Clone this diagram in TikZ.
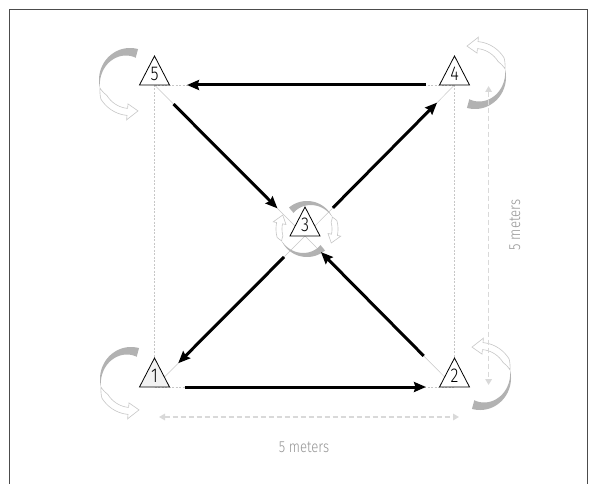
\documentclass[tikz,border=0pt]{standalone}
\usepackage{fontspec}
\setmainfont{Fira Sans}[FakeStretch=0.82, UprightFont=* Light]
\usetikzlibrary{arrows.meta,calc}
\tikzset{
  guide/.style={draw=black!22, line width=0.5pt},
  guidedash/.style={guide, dash pattern=on 2pt off 1.5pt},
  tri/.style={draw=black, line width=0.8pt, line join=miter},
  digit/.style={font=\fontsize{20}{20}\selectfont, text=black, inner sep=0pt},
  move/.style={draw=black, line width=3pt, -{Stealth[length=12pt,width=10pt,inset=1.5pt]}},
  dim/.style={draw=black!15, line width=1.6pt, dash pattern=on 5pt off 3pt,
    {Triangle[length=6pt,width=6.5pt]}-{Triangle[length=6pt,width=6.5pt]}},
  dimlabel/.style={font=\fontsize{16}{16}\selectfont, text=black!42, inner sep=0pt},
  band/.style={fill=black!30},
  outl/.style={draw=black!22, line width=0.6pt, fill=white},
  frame/.style={draw=black!70, line width=0.9pt},
}
% tapered band: rx ry a0 a1 T
\newcommand\rotband[5]{%
  \fill[band] plot[domain=0:1,samples=40,variable=\q]
    ({(#1)*cos(#3+(#4-#3)*\q)},{(#2)*sin(#3+(#4-#3)*\q)})
    -- plot[domain=0:1,samples=40,variable=\q]
    ({(#1-#5*\q)*cos(#4+(#3-#4)*\q)},{(#2-#5*\q)*sin(#4+(#3-#4)*\q)}) -- cycle;}
% outlined arrow: rx ry a1 a2 tip w h
\newcommand\rotout[7]{%
  \filldraw[outl] plot[domain=0:1,samples=40,variable=\q]
    ({(#1+#6*min(1,4*\q))*cos(#3+(#4-#3)*\q)},{(#2+#6*min(1,4*\q))*sin(#3+(#4-#3)*\q)})
    -- ({(#1+#7)*cos(#4)},{(#2+#7)*sin(#4)})
    -- ({(#1)*cos(#5)},{(#2)*sin(#5)})
    -- ({(#1-#7)*cos(#4)},{(#2-#7)*sin(#4)})
    -- plot[domain=0:1,samples=40,variable=\q]
    ({(#1-#6*min(1,4-4*\q))*cos(#4+(#3-#4)*\q)},{(#2-#6*min(1,4-4*\q))*sin(#4+(#3-#4)*\q)}) -- cycle;}
\newcommand\cornerrot{%
  \rotout{31}{32}{375}{445}{465}{3.5}{8}%
  \rotband{31}{32}{255}{375}{9}}
\newcommand\drone[4]{%
  \draw[tri,fill=#4] ($(#2)+(-15,0)$) -- ($(#2)+(0,-29)$) -- ($(#2)+(15,0)$) -- cycle;
  \node[digit] (#1) at ($(#2)+(0,-11)$) {#3};}
\begin{document}
\begin{tikzpicture}[x=1pt,y=-1pt]
  \fill[white] (0,0) rectangle (594,484);
  \useasboundingbox (0,0) rectangle (594,484);
  \draw[frame] (9,484) -- (9,9) -- (587,9) -- (587,484);

  \coordinate (P5) at (154.5,85);
  \coordinate (P4) at (454.5,85);
  \coordinate (P1) at (154.5,387);
  \coordinate (P2) at (454.5,387);
  \coordinate (P3) at (305,236);

  % construction lines
  \draw[guidedash] (P5) -- (P4);
  \draw[guidedash] (P1) -- (P2);
  \draw[guidedash] (P5) -- (P1);
  \draw[guidedash] (P4) -- (P2);
  \draw[guide] (P5) -- (P3) -- (P2);
  \draw[guide] (P4) -- (P3) -- (P1);

  % rotation arrows
  \begin{scope}[shift={(130,80)},xscale=-1] \cornerrot \end{scope}
  \begin{scope}[shift={(131,379)},xscale=-1] \cornerrot \end{scope}
  \begin{scope}[shift={(475,77)},yscale=-1] \cornerrot \end{scope}
  \begin{scope}[shift={(480,378)},yscale=-1] \cornerrot \end{scope}
  \begin{scope}[shift={(307,229)}]
    \rotout{28}{28}{335}{372}{390}{3}{6.5}
    \rotband{28}{28}{230}{335}{7}
  \end{scope}
  \begin{scope}[shift={(307,229)},rotate=180]
    \rotout{28}{28}{335}{372}{390}{3}{6.5}
    \rotband{28}{28}{230}{335}{7}
  \end{scope}

  % drones
  \drone{d5}{P5}{5}{white}
  \drone{d4}{P4}{4}{white}
  \drone{d3}{P3}{3}{white}
  \drone{d1}{P1}{1}{black!5}
  \drone{d2}{P2}{2}{white}

  % flight path
  \draw[move, shorten <=28.5pt, shorten >=32.5pt] (P4) -- (P5);
  \draw[move, shorten <=27pt, shorten >=39pt] (P5) -- (P3);
  \draw[move, shorten <=39.6pt, shorten >=24.8pt] (P3) -- (P4);
  \draw[move, shorten <=29.7pt, shorten >=33.6pt] (P3) -- (P1);
  \draw[move, shorten <=30pt, shorten >=28.5pt] (P1) -- (P2);
  \draw[move, shorten <=43.8pt, shorten >=22.6pt] (P2) -- (P3);

  % dimensions
  \coordinate (dl) at (159,417);
  \coordinate (dr) at (459,417);
  \coordinate (dt) at (488.6,86);
  \coordinate (db) at (488.6,385);
  \draw[dim] (dl) -- (dr);
  \draw[dim] (dt) -- (db);
  \node[dimlabel] (lh) at (304,447) {5 meters};
  \node[dimlabel, rotate=90] (lv) at (515,225) {5 meters};
\end{tikzpicture}
\end{document}
